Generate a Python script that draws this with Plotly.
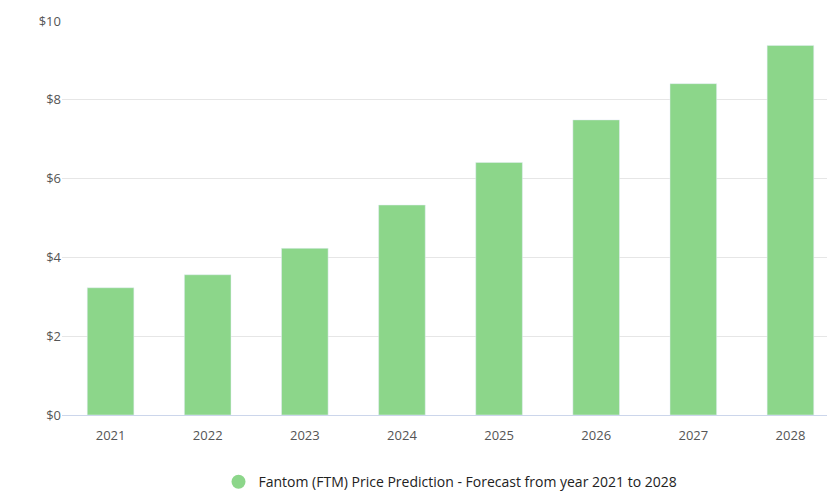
import plotly.graph_objects as go

years = ["2021", "2022", "2023", "2024", "2025", "2026", "2027", "2028"]
prices = [3.23, 3.56, 4.23, 5.33, 6.41, 7.49, 8.41, 9.38]
y_ticks = [0, 2, 4, 6, 8, 10]
y_labels = ["$0", "$2", "$4", "$6", "$8", "$10"]
series_name = "Fantom (FTM) Price Prediction - Forecast from year 2021 to 2028"

fig = go.Figure()
fig.add_trace(go.Bar(
    x=years, y=prices, name=series_name,
    marker=dict(color="#8cd68a"), showlegend=False,
))
# circle legend marker, like the original
fig.add_trace(go.Scatter(
    x=[None], y=[None], mode="markers", name=series_name,
    marker=dict(color="#8cd68a", size=14, symbol="circle"),
))

fig.update_layout(
    width=835, height=500,
    margin=dict(l=54, r=4, t=11, b=93),
    plot_bgcolor="white", paper_bgcolor="white",
    font=dict(family="Open Sans, DejaVu Sans, sans-serif", size=13, color="#333333"),
    bargap=0.52,
    legend=dict(orientation="h", x=0.5, xanchor="center", y=-0.13, yanchor="top",
                font=dict(size=14, color="#222222")),
    xaxis=dict(showline=True, linecolor="#ccd6eb", linewidth=1, ticks="",
               tickfont=dict(color="#555555", size=13), showgrid=False,
               ticklabelstandoff=8),
    yaxis=dict(range=[0, 10], tickvals=y_ticks, ticktext=y_labels,
               gridcolor="#e6e6e6", zeroline=False,
               tickfont=dict(color="#555555", size=13)),
)

fig.write_html("out.html")
